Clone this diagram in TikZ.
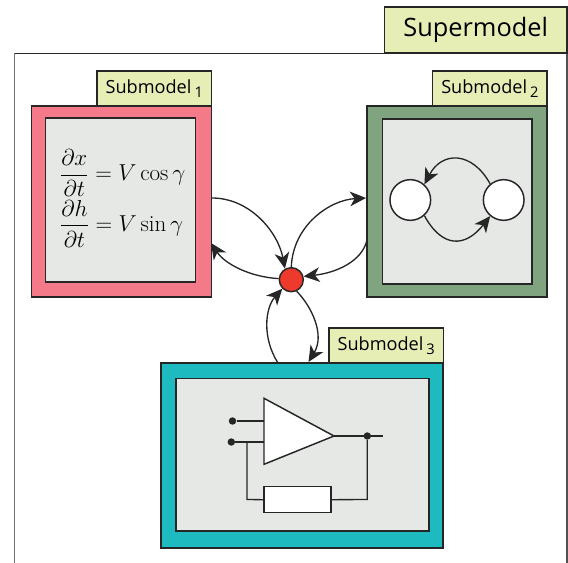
\documentclass[tikz,border=0pt]{standalone}
\usepackage{amsmath, amssymb}
\usepackage{fontspec}
\usepackage{tikz}
\usetikzlibrary{arrows.meta}
\newfontfamily\labelfont{Open Sans}
\definecolor{tabcol}{HTML}{E6EEB6}
\definecolor{innercol}{HTML}{E6E8E6}
\definecolor{pinkcol}{HTML}{F47A8A}
\definecolor{greencol}{HTML}{80A47F}
\definecolor{tealcol}{HTML}{1DBBC0}
\definecolor{hubcol}{HTML}{EE3A2C}
\definecolor{linecol}{HTML}{262626}
\newcommand{\subidx}[1]{\,\raisebox{-3pt}{\fontsize{11}{13}\selectfont #1}}
\tikzset{
  box/.style={draw=linecol, line width=1.1pt, inner sep=0pt},
  tab/.style={box, fill=tabcol, minimum width=85.9pt, minimum height=26.25pt, font=\labelfont\fontsize{13.6}{16}\selectfont},
  outer/.style={box, line width=1.3pt},
  inner/.style={box, fill=innercol},
  link/.style={draw=linecol, line width=1pt, -{Stealth[length=12pt,width=11pt,inset=3.5pt]}},
  wire/.style={draw=linecol, line width=1pt},
  dot/.style={circle, fill=linecol, inner sep=0pt, minimum size=5.6pt},
  state/.style={circle, draw=linecol, line width=1.1pt, fill=white, inner sep=0pt, minimum size=30.5pt}
}
\begin{document}
\begin{tikzpicture}[x=0.75pt,y=-0.75pt]
\useasboundingbox (0,0) rectangle (568,563);
% frame of the supermodel
\draw[linecol, line width=1pt] (14.5,53.5) -- (567,53.5);
\draw[linecol!65, line width=1pt] (14.5,563) -- (14.5,53.5);
\draw[linecol!80, line width=0.8pt] (567,53.5) -- (567,563);
\node[box, fill=tabcol, minimum width=136.9pt, minimum height=34.5pt, font=\labelfont\fontsize{19}{24}\selectfont] (supertab) at (475.7,30) {Supermodel};
% submodel 1
\node[outer, fill=pinkcol, minimum width=135pt, minimum height=143.25pt] (sub1) at (121.5,201.5) {};
\node[inner, minimum width=112.5pt, minimum height=123pt] (sub1in) at (120.5,200) {};
\node[tab] (tab1) at (154.25,88.5) {Submodel\subidx{1}};
\node[font=\fontsize{17.28}{20}\selectfont] (eq1) at (122.5,173) {$\displaystyle\frac{\partial x}{\partial t} = V\cos\gamma$};
\node[font=\fontsize{17.28}{20}\selectfont] (eq2) at (121.5,223.7) {$\displaystyle\frac{\partial h}{\partial t} = V\sin\gamma$};
% submodel 2
\node[outer, fill=greencol, minimum width=135pt, minimum height=143.25pt] (sub2) at (457.3,201.5) {};
\node[inner, minimum width=112.3pt, minimum height=123.75pt] (sub2in) at (457.2,201.5) {};
\node[tab] (tab2) at (489.9,88.5) {Submodel\subidx{2}};
\node[state] (left) at (410.3,200) {};
\node[state] (right) at (503.7,200) {};
\draw[link] (right.130) .. controls (472,151) and (442,151) .. (left.48);
\draw[link] (left.-48) .. controls (442,248) and (465,248) .. (right.-130);
% submodel 3
\node[outer, fill=tealcol, minimum width=212pt, minimum height=138.5pt] (sub3) at (302,455.3) {};
\node[inner, minimum width=189.75pt, minimum height=114.2pt] (sub3in) at (302.5,454.8) {};
\node[tab] (tab3) at (386.2,345.3) {Submodel\subidx{3}};
% amplifier with feedback
\coordinate (ampin1) at (264,421);
\coordinate (ampin2) at (264,442);
\coordinate (amptip) at (334,436);
\coordinate (ampend) at (383,436);
\coordinate (fbtop) at (247,442);
\coordinate (fbbot) at (247,499.5);
\coordinate (fbright) at (367.3,499.5);
\node[dot] (in1) at (232.5,421) {};
\node[dot] (in2) at (231.3,442) {};
\node[dot] (junction) at (367.3,436) {};
\node[draw=linecol, line width=1pt, fill=white, inner sep=0pt, minimum width=50.25pt, minimum height=19.5pt] (res) at (297.5,499.7) {};
\draw[wire] (in1) -- (ampin1);
\draw[wire] (in2) -- (ampin2);
\draw[wire] (amptip) -- (ampend);
\draw[wire] (junction) -- (fbright) -- (res.east);
\draw[wire] (res.west) -- (fbbot) -- (fbtop);
\draw[wire, line width=1.1pt, fill=white] (264,398.3) -- (264,464.3) -- (amptip) -- cycle;
% hub and its links
\node[circle, draw=linecol, line width=1.1pt, fill=hubcol, inner sep=0pt, minimum size=18pt] (hub) at (291.3,279.7) {};
\coordinate (sub1out) at (212,198);
\coordinate (sub1back) at (211,243);
\coordinate (sub2back) at (367,240);
\coordinate (sub2in) at (366,198);
\coordinate (sub3out) at (278,363);
\coordinate (sub3back) at (308.5,362);
\draw[link] (sub1out) .. controls (250,198) and (278,232) .. (hub.120);
\draw[link] (hub.175) .. controls (250,277) and (225,264) .. (sub1back);
\draw[link] (hub.90) .. controls (293,225) and (330,200) .. (sub2in);
\draw[link] (sub2back) .. controls (362,262) and (335,273) .. (hub.15);
\draw[link] (sub3out) .. controls (262,338) and (265,308) .. (hub.-135);
\draw[link] (hub.-65) .. controls (312,307) and (325,335) .. (sub3back);
\end{tikzpicture}
\end{document}
